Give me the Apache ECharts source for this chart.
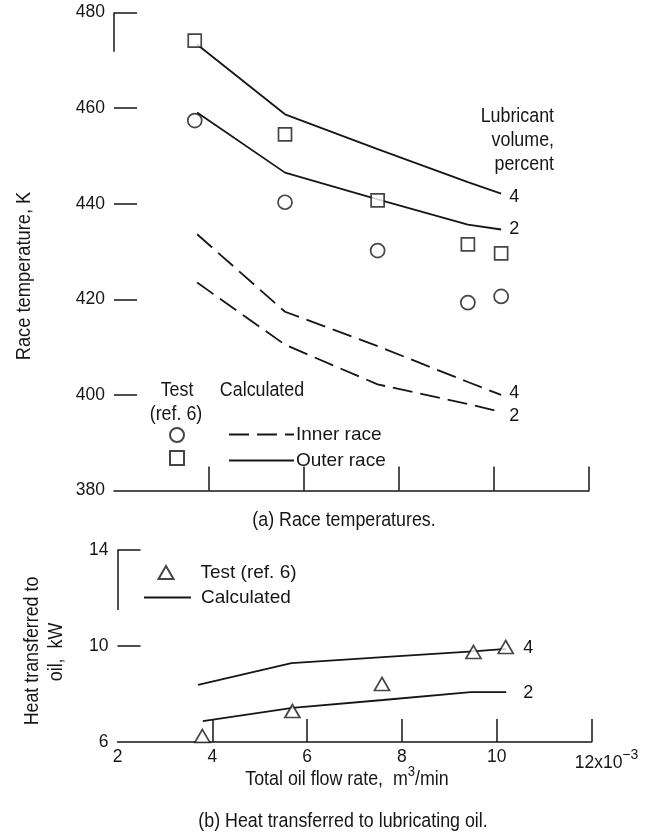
<!DOCTYPE html>
<html>
<head>
<meta charset="utf-8">
<script src="https://cdn.jsdelivr.net/npm/echarts@6/dist/echarts.min.js"></script>
<style>
  html, body { margin: 0; padding: 0; background: #ffffff; }
  #chart { width: 646px; height: 836px; }
</style>
</head>
<body>
<div id="chart"></div>
<script>
// (a) Race temperatures, K, against total oil flow rate (x 10^-3 m^3/min)
const raceFlowTest  = [3.7, 5.6, 7.55, 9.45, 10.15];
const outerRaceTest = [474.1, 454.5, 440.7, 431.5, 429.6];
const innerRaceTest = [457.4, 440.3, 430.2, 419.3, 420.6];

const raceFlowCalc  = [3.75, 5.6, 7.55, 9.45, 10.15];
const outerRace4    = [473.3, 458.7, 451.4, 444.5, 442.1];
const outerRace2    = [459.1, 446.5, 440.9, 435.6, 434.6];
const innerRace4    = [433.6, 417.4, 410.2, 402.7, 400.0];
const innerRace2    = [423.5, 410.5, 402.2, 398.1, 396.4];

const raceTempTicks = [380, 400, 420, 440, 460, 480];

// (b) Heat transferred to oil, kW
const heatFlowTest  = [3.79, 5.69, 7.58, 9.51, 10.19];
const heatTest      = [6.25, 7.29, 8.42, 9.75, 9.96];
const heatFlowCalc4 = [3.7, 5.67, 7.6, 9.5, 10.2];
const heatCalc4     = [8.38, 9.29, 9.54, 9.78, 9.88];
const heatFlowCalc2 = [3.8, 5.69, 7.6, 9.45, 10.2];
const heatCalc2     = [6.87, 7.42, 7.75, 8.08, 8.08];

const flowTicks = [2, 4, 6, 8, 10, 12];
const heatTicks = [6, 10, 14];

const FONT = '"Liberation Sans", Arial, sans-serif';
const INK = '#161616';
const LINE_W = 1.8;
const DASH = [20, 8];
const NUM_SIZE = 17.5;
const TEXT_SIZE = 20.5;
const NARROW = 0.87;   // horizontal squeeze for the condensed lettering

function pairs(xs, ys) { return xs.map((x, i) => [x, ys[i]]); }

const tickStyle = { color: INK, width: 1.5 };

function endLabel(txt, dx, dy) {
  return { show: true, formatter: txt, distance: 7, offset: [dx, dy],
           fontFamily: FONT, fontSize: 18, color: INK };
}

function cornerLine(xv, yTop, yBottom) {
  return {
    silent: true, symbol: ['none', 'none'], label: { show: false },
    lineStyle: { type: 'solid', color: INK, width: 1.5 },
    data: [[{ coord: [xv, yTop] }, { coord: [xv, yBottom] }]]
  };
}

function caption(x, y, text, opts) {
  opts = opts || {};
  return {
    type: 'text', x: x, y: y, rotation: opts.rotation || 0, scaleX: NARROW,
    style: {
      text: text, fontFamily: FONT, fontSize: opts.size || TEXT_SIZE, fill: INK,
      lineHeight: opts.lineHeight, align: opts.align || 'center', verticalAlign: 'middle',
      rich: opts.rich
    }
  };
}

const openMarker = { color: '#ffffff', borderColor: INK, borderWidth: 1.7 };
const hiddenLegendSymbol = { color: 'rgba(0,0,0,0)', borderColor: 'rgba(0,0,0,0)', borderWidth: 0 };
const legendText = { fontFamily: FONT, fontSize: 19, color: INK };

const chart = echarts.init(document.getElementById('chart'), null, { renderer: 'canvas' });

chart.setOption({
  animation: false,
  backgroundColor: '#ffffff',
  grid: [
    { left: 114, top: 12.5, width: 475, height: 478, outerBoundsMode: 'none' },
    { left: 117.5, top: 550, width: 474, height: 192, outerBoundsMode: 'none' }
  ],
  xAxis: [
    {
      gridIndex: 0, type: 'value', min: 2, max: 12, interval: 2,
      axisLine: { show: true, onZero: false, lineStyle: tickStyle },
      axisTick: { show: true, inside: true, length: 24, customValues: flowTicks.slice(1), lineStyle: tickStyle },
      axisLabel: { show: false },
      splitLine: { show: false }
    },
    {
      gridIndex: 1, type: 'value', min: 2, max: 12, interval: 2,
      axisLine: { show: true, onZero: false, lineStyle: tickStyle },
      axisTick: { show: true, inside: true, length: 23, customValues: flowTicks.slice(1), lineStyle: tickStyle },
      axisLabel: {
        show: true, customValues: flowTicks, margin: 6,
        fontFamily: FONT, fontSize: NUM_SIZE, color: INK,
        formatter: v => v === flowTicks[flowTicks.length - 1] ? '{a|' + v + 'x10}{s|\u22123}' : String(v),
        rich: {
          a: { fontFamily: FONT, fontSize: NUM_SIZE, color: INK, padding: [0, 0, 0, 30], lineHeight: 24, verticalAlign: 'bottom' },
          s: { fontFamily: FONT, fontSize: 14, color: INK, lineHeight: 24, verticalAlign: 'top' }
        }
      },
      splitLine: { show: false }
    }
  ],
  yAxis: [
    {
      gridIndex: 0, type: 'value', min: 380, max: 480, interval: 20,
      axisLine: { show: false },
      axisTick: { show: true, inside: true, length: 23, customValues: raceTempTicks.slice(1), lineStyle: tickStyle },
      axisLabel: { margin: 9, fontFamily: FONT, fontSize: NUM_SIZE, color: INK },
      splitLine: { show: false }
    },
    {
      gridIndex: 1, type: 'value', min: 6, max: 14, interval: 4,
      axisLine: { show: false },
      axisTick: { show: true, inside: true, length: 23, customValues: heatTicks.slice(1), lineStyle: tickStyle },
      axisLabel: { margin: 9, fontFamily: FONT, fontSize: NUM_SIZE, color: INK },
      splitLine: { show: false }
    }
  ],
  legend: [
    {
      left: 169, top: 427, padding: 0, orient: 'vertical', itemWidth: 14, itemHeight: 14, itemGap: 7,
      selectedMode: false, data: ['Inner race test', 'Outer race test'],
      formatter: () => '', textStyle: { fontSize: 1 }
    },
    {
      left: 228, top: 425, padding: 0, orient: 'vertical', itemWidth: 65, itemHeight: 14, itemGap: 7,
      selectedMode: false, data: ['Inner race', 'Outer race'],
      itemStyle: hiddenLegendSymbol,
      textStyle: Object.assign({ padding: [0, 0, 0, -3] }, legendText)
    },
    {
      left: 157.5, top: 563, padding: 0, itemWidth: 15, itemHeight: 13,
      selectedMode: false, data: ['Test (ref. 6)'],
      textStyle: Object.assign({ padding: [0, 0, 0, 22] }, legendText)
    },
    {
      left: 143, top: 588, padding: 0, itemWidth: 47, itemHeight: 14,
      selectedMode: false, data: ['Calculated'],
      itemStyle: hiddenLegendSymbol,
      textStyle: Object.assign({ padding: [0, 0, 0, 5] }, legendText)
    }
  ],
  series: [
    {
      name: 'Outer race', type: 'line', xAxisIndex: 0, yAxisIndex: 0, symbol: 'none',
      data: pairs(raceFlowCalc, outerRace4),
      lineStyle: { color: INK, width: LINE_W }, itemStyle: { color: INK },
      endLabel: endLabel('4', 1, 3),
      markLine: cornerLine(2, 480, 471.8)
    },
    {
      name: 'Outer race', type: 'line', xAxisIndex: 0, yAxisIndex: 0, symbol: 'none',
      data: pairs(raceFlowCalc, outerRace2),
      lineStyle: { color: INK, width: LINE_W }, itemStyle: { color: INK },
      endLabel: endLabel('2', 1, 0)
    },
    {
      name: 'Inner race', type: 'line', xAxisIndex: 0, yAxisIndex: 0, symbol: 'none',
      data: pairs(raceFlowCalc, innerRace4),
      lineStyle: { color: INK, width: LINE_W, type: DASH }, itemStyle: { color: INK },
      endLabel: endLabel('4', 1, -2)
    },
    {
      name: 'Inner race', type: 'line', xAxisIndex: 0, yAxisIndex: 0, symbol: 'none',
      data: pairs(raceFlowCalc, innerRace2),
      lineStyle: { color: INK, width: LINE_W, type: DASH }, itemStyle: { color: INK },
      endLabel: endLabel('2', 1, 4)
    },
    {
      name: 'Outer race test', type: 'scatter', xAxisIndex: 0, yAxisIndex: 0,
      symbol: 'rect', symbolSize: 13, z: 5,
      data: pairs(raceFlowTest, outerRaceTest), itemStyle: openMarker
    },
    {
      name: 'Inner race test', type: 'scatter', xAxisIndex: 0, yAxisIndex: 0,
      symbol: 'circle', symbolSize: 14, z: 5,
      data: pairs(raceFlowTest, innerRaceTest), itemStyle: openMarker
    },
    {
      name: 'Calculated', type: 'line', xAxisIndex: 1, yAxisIndex: 1, symbol: 'none',
      data: pairs(heatFlowCalc4, heatCalc4),
      lineStyle: { color: INK, width: LINE_W }, itemStyle: { color: INK },
      endLabel: endLabel('4', 10, -1),
      markLine: cornerLine(2, 14, 11.5)
    },
    {
      name: 'Calculated', type: 'line', xAxisIndex: 1, yAxisIndex: 1, symbol: 'none',
      data: pairs(heatFlowCalc2, heatCalc2),
      lineStyle: { color: INK, width: LINE_W }, itemStyle: { color: INK },
      endLabel: endLabel('2', 10, 1)
    },
    {
      name: 'Test (ref. 6)', type: 'scatter', xAxisIndex: 1, yAxisIndex: 1,
      symbol: 'triangle', symbolSize: [15, 13], z: 5,
      data: pairs(heatFlowTest, heatTest), itemStyle: openMarker
    }
  ],
  graphic: [
    caption(554, 140, 'Lubricant\nvolume,\npercent', { align: 'right', lineHeight: 24 }),
    caption(177, 390, 'Test'),
    caption(176, 414, '(ref. 6)'),
    caption(262, 390, 'Calculated'),
    caption(344, 520, '(a) Race temperatures.'),
    caption(24, 276, 'Race temperature, K', { rotation: Math.PI / 2, size: 21 }),
    caption(32, 651, 'Heat transferred to', { rotation: Math.PI / 2 }),
    caption(56, 652, 'oil,  kW', { rotation: Math.PI / 2 }),
    caption(347, 777, '{n|Total oil flow rate,  m}{s|3}{n|/min}', {
      rich: {
        n: { fontFamily: FONT, fontSize: TEXT_SIZE, fill: INK, lineHeight: 26, verticalAlign: 'bottom' },
        s: { fontFamily: FONT, fontSize: 15, fill: INK, lineHeight: 26, verticalAlign: 'top' }
      }
    }),
    caption(343, 821, '(b) Heat transferred to lubricating oil.')
  ]
});
</script>
</body>
</html>
